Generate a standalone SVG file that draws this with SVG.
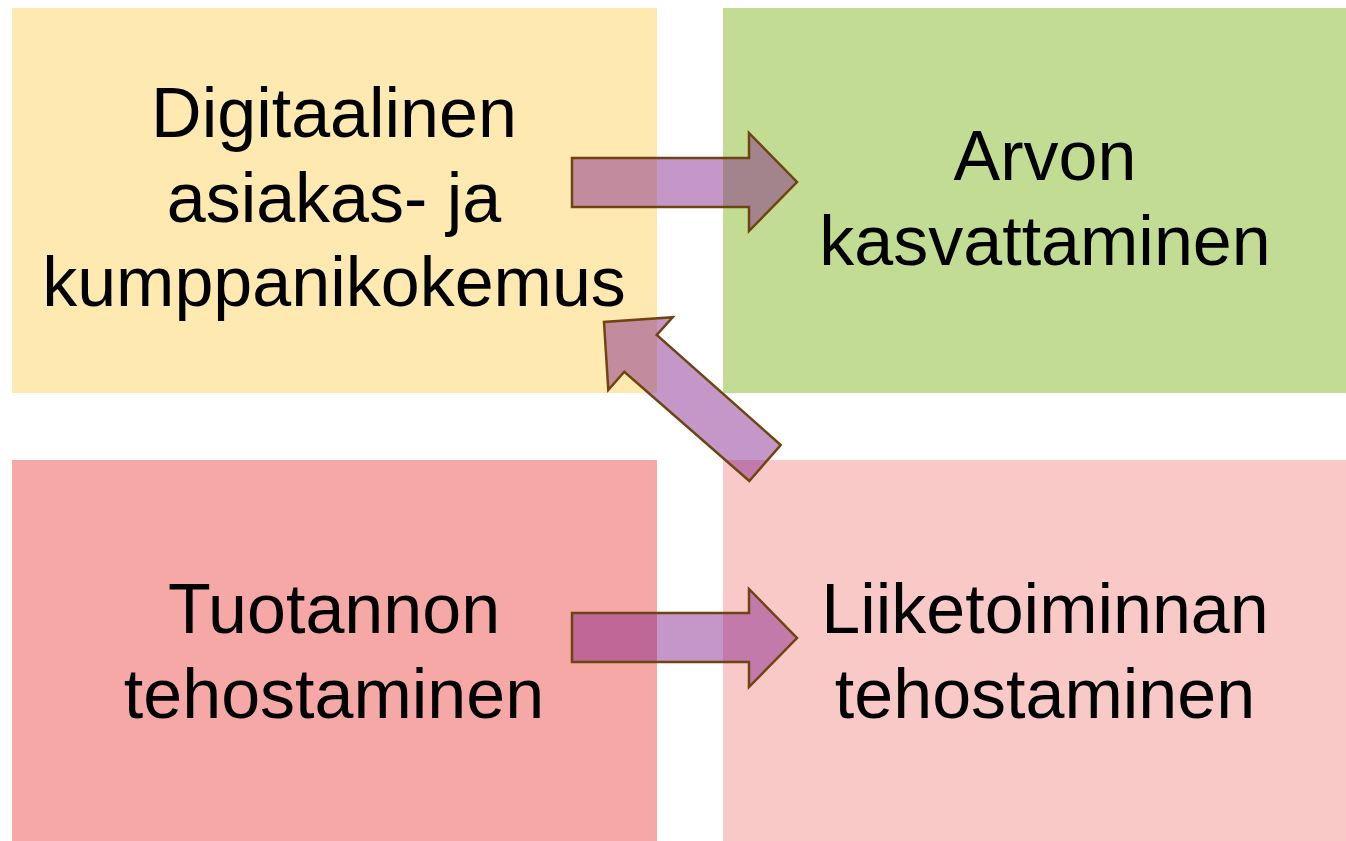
<svg xmlns="http://www.w3.org/2000/svg" width="1346" height="841" viewBox="0 0 1346 841">
<style>
.t{font-family:"Liberation Sans",Arial,sans-serif;font-size:70px;fill:#000;text-anchor:middle}
.arr{fill:#7F1D87;fill-opacity:0.46;stroke:#6E4410;stroke-width:2.5;stroke-linejoin:miter}
</style>
<rect width="1346" height="841" fill="#fff"/>
<g id="node-digitaalinen">
<rect x="12" y="8" width="645" height="385" fill="#FEEAB1"/>
<text class="t" x="334" y="137">Digitaalinen</text>
<text class="t" x="334" y="222">asiakas- ja</text>
<text class="t" x="334" y="306">kumppanikokemus</text>
</g>
<g id="node-arvon">
<rect x="723" y="8" width="623" height="385" fill="#C3DC93"/>
<text class="t" x="1045" y="180">Arvon</text>
<text class="t" x="1045" y="265">kasvattaminen</text>
</g>
<g id="node-tuotannon">
<rect x="12" y="460" width="645" height="381" fill="#F5A8A6"/>
<text class="t" x="334" y="633">Tuotannon</text>
<text class="t" x="334" y="718">tehostaminen</text>
</g>
<g id="node-liiketoiminnan">
<rect x="723" y="460" width="623" height="381" fill="#F9C9C8"/>
<text class="t" x="1045" y="633">Liiketoiminnan</text>
<text class="t" x="1045" y="718">tehostaminen</text>
</g>
<g id="connectors">
<polygon class="arr" points="572,158 749,158 749,133 797,182 749,231 749,207 572,207"/>
<polygon class="arr" points="572,613 749,613 749,589 797,638 749,687 749,662 572,662"/>
<polygon class="arr" points="780.7,445 656.7,335 672.7,317.3 604,322 608.3,390 624.3,371.7 749.3,481"/>
</g>
</svg>
